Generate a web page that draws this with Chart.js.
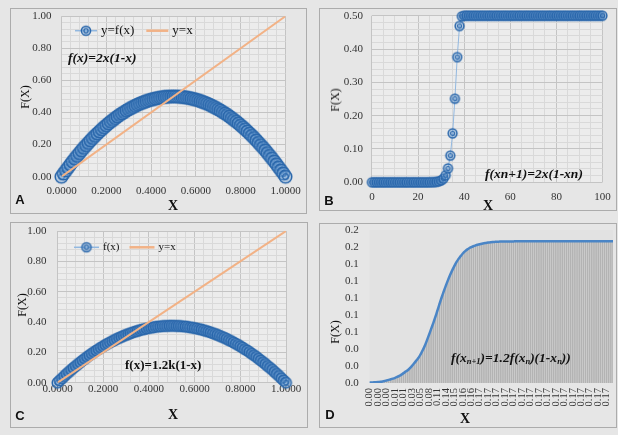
<!DOCTYPE html>
<html>
<head>
<meta charset="utf-8">
<title>Logistic map iterations</title>
<script src="https://cdn.jsdelivr.net/npm/chart.js@4.4.1/dist/chart.umd.min.js"></script>
<style>
  html, body { margin: 0; padding: 0; }
  body { width: 618px; height: 435px; background: #e6e6e6; position: relative; overflow: hidden;
         font-family: "Liberation Serif", "Times New Roman", serif; }
  .panel { position: absolute; box-sizing: border-box; border: 1.5px solid #acacac; }
  .holder { position: absolute; }
  .t { position: absolute; white-space: nowrap; color: #111; line-height: 16px; }
  .ctr { transform: translate(-50%, -50%); }
  .vt { transform: translate(-50%, -50%) rotate(-90deg); }
  .letter { font-family: "Liberation Sans", Arial, sans-serif; font-weight: bold; font-size: 13px; }
  .ax { font-size: 14px; font-weight: bold; }
  .fy { font-size: 12px; }
  .note { font-size: 13.5px; font-weight: bold; font-style: italic; transform: translateY(-50%); }
  .note.up { font-style: normal; font-size: 13px; }
  .note sub { font-size: 8.5px; vertical-align: -2px; line-height: 0; }
</style>
</head>
<body>

<div class="panel" style="left:10px;top:8px;width:297px;height:206px"></div>
<div class="panel" style="left:319px;top:8px;width:298px;height:203px"></div>
<div class="panel" style="left:10px;top:222px;width:298px;height:206px"></div>
<div class="panel" style="left:319px;top:223px;width:298px;height:205px"></div>

<div class="holder" style="left:10px;top:8px;width:297px;height:206px"><canvas id="chartA"></canvas></div>
<div class="holder" style="left:319px;top:8px;width:298px;height:203px"><canvas id="chartB"></canvas></div>
<div class="holder" style="left:10px;top:222px;width:298px;height:206px"><canvas id="chartC"></canvas></div>
<div class="holder" style="left:319px;top:223px;width:298px;height:205px"><canvas id="chartD"></canvas></div>

<!-- panel A -->
<div class="t letter ctr" style="left:20px;top:200px">A</div>
<div class="t fy vt" style="left:25px;top:97px">F(X)</div>
<div class="t ax ctr" style="left:173px;top:206px">X</div>
<div class="t note" style="left:68px;top:58px">f(x)=2x(1-x)</div>
<!-- panel B -->
<div class="t letter ctr" style="left:329px;top:201px">B</div>
<div class="t fy vt" style="left:335px;top:100px">F(X)</div>
<div class="t ax ctr" style="left:488px;top:206px">X</div>
<div class="t note" style="left:485px;top:174px">f(xn+1)=2x(1-xn)</div>
<!-- panel C -->
<div class="t letter ctr" style="left:20px;top:416px">C</div>
<div class="t fy vt" style="left:22px;top:305px">F(X)</div>
<div class="t ax ctr" style="left:173px;top:415px">X</div>
<div class="t note up" style="left:125px;top:365px">f(x)=1.2k(1-x)</div>
<!-- panel D -->
<div class="t letter ctr" style="left:330px;top:415px">D</div>
<div class="t fy vt" style="left:335px;top:332px">F(X)</div>
<div class="t ax ctr" style="left:465px;top:419px">X</div>
<div class="t note" style="left:451px;top:358px">f(x<sub>n+1</sub>)=1.2f(x<sub>n</sub>)(1-x<sub>n</sub>))</div>

<script>
// x values shared by panels A and C
const xGrid = [
  0.00, 0.01, 0.02, 0.03, 0.04, 0.05, 0.06, 0.07, 0.08, 0.09,
  0.10, 0.11, 0.12, 0.13, 0.14, 0.15, 0.16, 0.17, 0.18, 0.19,
  0.20, 0.21, 0.22, 0.23, 0.24, 0.25, 0.26, 0.27, 0.28, 0.29,
  0.30, 0.31, 0.32, 0.33, 0.34, 0.35, 0.36, 0.37, 0.38, 0.39,
  0.40, 0.41, 0.42, 0.43, 0.44, 0.45, 0.46, 0.47, 0.48, 0.49,
  0.50, 0.51, 0.52, 0.53, 0.54, 0.55, 0.56, 0.57, 0.58, 0.59,
  0.60, 0.61, 0.62, 0.63, 0.64, 0.65, 0.66, 0.67, 0.68, 0.69,
  0.70, 0.71, 0.72, 0.73, 0.74, 0.75, 0.76, 0.77, 0.78, 0.79,
  0.80, 0.81, 0.82, 0.83, 0.84, 0.85, 0.86, 0.87, 0.88, 0.89,
  0.90, 0.91, 0.92, 0.93, 0.94, 0.95, 0.96, 0.97, 0.98, 0.99,
  1.00
];

// panel A: f(x) = 2x(1-x)
const fA = [
  0.000, 0.020, 0.039, 0.058, 0.077, 0.095, 0.113, 0.130, 0.147, 0.164,
  0.180, 0.196, 0.211, 0.226, 0.241, 0.255, 0.269, 0.282, 0.295, 0.308,
  0.320, 0.332, 0.343, 0.354, 0.365, 0.375, 0.385, 0.394, 0.403, 0.412,
  0.420, 0.428, 0.435, 0.442, 0.449, 0.455, 0.461, 0.466, 0.471, 0.476,
  0.480, 0.484, 0.487, 0.490, 0.493, 0.495, 0.497, 0.498, 0.499, 0.500,
  0.500, 0.500, 0.499, 0.498, 0.497, 0.495, 0.493, 0.490, 0.487, 0.484,
  0.480, 0.476, 0.471, 0.466, 0.461, 0.455, 0.449, 0.442, 0.435, 0.428,
  0.420, 0.412, 0.403, 0.394, 0.385, 0.375, 0.365, 0.354, 0.343, 0.332,
  0.320, 0.308, 0.295, 0.282, 0.269, 0.255, 0.241, 0.226, 0.211, 0.196,
  0.180, 0.164, 0.147, 0.130, 0.113, 0.095, 0.077, 0.058, 0.039, 0.020,
  0.000
];

// panel C: f(x) curve
const fC = [
  0.000, 0.015, 0.029, 0.044, 0.058, 0.071, 0.085, 0.098, 0.110, 0.123,
  0.135, 0.147, 0.158, 0.170, 0.181, 0.191, 0.202, 0.212, 0.221, 0.231,
  0.240, 0.249, 0.257, 0.266, 0.274, 0.281, 0.289, 0.296, 0.302, 0.309,
  0.315, 0.321, 0.326, 0.332, 0.337, 0.341, 0.346, 0.350, 0.353, 0.357,
  0.360, 0.363, 0.365, 0.368, 0.370, 0.371, 0.373, 0.374, 0.374, 0.375,
  0.375, 0.375, 0.374, 0.374, 0.373, 0.371, 0.370, 0.368, 0.365, 0.363,
  0.360, 0.357, 0.353, 0.350, 0.346, 0.341, 0.337, 0.332, 0.326, 0.321,
  0.315, 0.309, 0.302, 0.296, 0.289, 0.281, 0.274, 0.266, 0.257, 0.249,
  0.240, 0.231, 0.221, 0.212, 0.202, 0.191, 0.181, 0.170, 0.158, 0.147,
  0.135, 0.123, 0.110, 0.098, 0.085, 0.071, 0.058, 0.044, 0.029, 0.015,
  0.000
];

// y = x reference line (end points)
const diagX = [0, 1];
const diagY = [0, 1];

// panel B: iterates x(n), n = 0..100
const bIter = [
  0, 0, 0, 0, 0, 0, 0, 0, 0, 0,
  0, 0, 0, 0, 0, 0, 0, 0, 0, 0,
  0, 0.00001, 0.00002, 0.00004, 0.00009, 0.00017, 0.00034, 0.00068, 0.00136, 0.00272,
  0.00541, 0.01077, 0.0213, 0.0417, 0.0799, 0.1470, 0.2508, 0.3758, 0.4692, 0.4981,
  0.5000, 0.5, 0.5, 0.5, 0.5, 0.5, 0.5, 0.5, 0.5, 0.5,
  0.5, 0.5, 0.5, 0.5, 0.5, 0.5, 0.5, 0.5, 0.5, 0.5,
  0.5, 0.5, 0.5, 0.5, 0.5, 0.5, 0.5, 0.5, 0.5, 0.5,
  0.5, 0.5, 0.5, 0.5, 0.5, 0.5, 0.5, 0.5, 0.5, 0.5,
  0.5, 0.5, 0.5, 0.5, 0.5, 0.5, 0.5, 0.5, 0.5, 0.5,
  0.5, 0.5, 0.5, 0.5, 0.5, 0.5, 0.5, 0.5, 0.5, 0.5,
  0.5
];

// panel D: iterates of the 1.2 map
const dIter = [
  0.0005, 0.0006, 0.0008, 0.0009, 0.0011, 0.0014, 0.0018, 0.0023, 0.0030, 0.0037,
  0.0044, 0.0052, 0.0061, 0.0071, 0.0084, 0.0099, 0.0116, 0.0134, 0.0151, 0.0175,
  0.0202, 0.0232, 0.0263, 0.0294, 0.0335, 0.0383, 0.0436, 0.0499, 0.0565, 0.0633,
  0.0702, 0.0774, 0.0852, 0.0930, 0.1006, 0.1078, 0.1146, 0.1210, 0.1270, 0.1325,
  0.1375, 0.1421, 0.1460, 0.1493, 0.1524, 0.1549, 0.1569, 0.1585, 0.1598, 0.1609,
  0.1618, 0.1626, 0.1633, 0.1639, 0.1644, 0.1648, 0.1652, 0.1655, 0.1658, 0.1660,
  0.1662, 0.1663, 0.1664, 0.1665, 0.1665, 0.1666, 0.1666, 0.1666, 0.1666, 0.1667,
  0.1667, 0.1667, 0.1667, 0.1667, 0.1667, 0.1667, 0.1667, 0.1667, 0.1667, 0.1667,
  0.1667, 0.1667, 0.1667, 0.1667, 0.1667, 0.1667, 0.1667, 0.1667, 0.1667, 0.1667,
  0.1667, 0.1667, 0.1667, 0.1667, 0.1667, 0.1667, 0.1667, 0.1667, 0.1667, 0.1667,
  0.1667, 0.1667, 0.1667, 0.1667, 0.1667, 0.1667, 0.1667, 0.1667, 0.1667, 0.1667,
  0.1667, 0.1667, 0.1667, 0.1667, 0.1667, 0.1667
];
// category labels shown under panel D (one every dLabelStep points)
const dTickLabels = [
  '0.00', '0.00', '0.00', '0.01', '0.01', '0.03', '0.05', '0.08', '0.11', '0.14',
  '0.15', '0.16', '0.16', '0.17', '0.17', '0.17', '0.17', '0.17', '0.17', '0.17',
  '0.17', '0.17', '0.17', '0.17', '0.17', '0.17', '0.17', '0.17', '0.17'
];
const dLabelStep = 4;

// ---------- styling helpers ----------
const BLUE = '#2a67ab';
const BLUE_LINE = '#92b8e0';
const ORANGE = '#f2b286';
const GRID_MAJOR = '#c4c4c4';
const GRID_MINOR = '#d9d9d9';

Chart.defaults.font.family = '"Liberation Serif", "Times New Roman", serif';
Chart.defaults.font.size = 11;
Chart.defaults.color = '#333333';
Chart.defaults.animation = false;

// double-ring circle marker of a given outer radius
function ringMarker(r) {
  const s = Math.ceil(2 * r + 4);
  const c = document.createElement('canvas');
  c.width = s; c.height = s;
  const g = c.getContext('2d');
  const m = s / 2;
  g.fillStyle = 'rgba(120,166,216,0.45)';
  g.beginPath(); g.arc(m, m, r, 0, Math.PI * 2); g.fill();
  g.strokeStyle = BLUE;
  g.lineWidth = 1.5;
  g.beginPath(); g.arc(m, m, r, 0, Math.PI * 2); g.stroke();
  g.lineWidth = 1.2;
  g.beginPath(); g.arc(m, m, r * 0.45, 0, Math.PI * 2); g.stroke();
  return c;
}

// fills the plotting rectangle
const plotBg = {
  id: 'plotBg',
  beforeDraw(chart, args, opts) {
    if (!opts.color) return;
    const { ctx, chartArea: a } = chart;
    ctx.save();
    ctx.fillStyle = opts.color;
    ctx.fillRect(a.left, a.top, a.width, a.height);
    ctx.restore();
  }
};

// small legend drawn inside the plotting rectangle
const insetLegend = {
  id: 'insetLegend',
  afterDatasetsDraw(chart, args, o) {
    if (!o.items) return;
    const ctx = chart.ctx;
    ctx.save();
    ctx.font = (o.bold ? 'bold ' : '') + o.size + 'px "Liberation Serif", serif';
    ctx.textBaseline = 'middle';
    let x = chart.chartArea.left + o.dx;
    const y = chart.chartArea.top + o.dy;
    for (const it of o.items) {
      const ds = chart.data.datasets[it.dataset];
      ctx.strokeStyle = ds.borderColor;
      ctx.lineWidth = it.lineWidth;
      ctx.beginPath(); ctx.moveTo(x, y); ctx.lineTo(x + o.sample, y); ctx.stroke();
      if (it.marker) {
        const img = it.marker;
        ctx.drawImage(img, x + o.sample / 2 - img.width / 2, y - img.height / 2);
      }
      x += o.sample + o.gap;
      ctx.fillStyle = '#111';
      ctx.fillText(ds.label, x, y);
      x += ctx.measureText(ds.label).width + o.spacing;
    }
    ctx.restore();
  }
};
Chart.register(plotBg, insetLegend);

function isMajor(v, major) {
  const q = v / major;
  return Math.abs(q - Math.round(q)) < 1e-6;
}

// fixes an axis thickness and drops the label overhang padding
function fixSize(size) {
  return s => {
    if (s.isHorizontal()) s.height = size; else s.width = size;
    s.paddingTop = 0; s.paddingBottom = 0; s.paddingLeft = 0; s.paddingRight = 0;
  };
}

// linear axis with major/minor grid
function gridAxis({ min, max, major, minor, digits, size, pad }) {
  return {
    type: 'linear', min, max,
    border: { display: false },
    grid: {
      drawTicks: false,
      color: c => (c.tick && isMajor(c.tick.value, major)) ? GRID_MAJOR : GRID_MINOR
    },
    ticks: {
      stepSize: minor, autoSkip: false, padding: pad, maxRotation: 0,
      callback: v => isMajor(v, major) ? v.toFixed(digits) : ''
    },
    afterFit: fixSize(size)
  };
}

function pairs(xs, ys) { return xs.map((x, i) => ({ x, y: ys[i] })); }

function curveSet(label, xs, ys, mark) {
  return {
    type: 'scatter', label, data: pairs(xs, ys), showLine: true,
    borderColor: BLUE_LINE, borderWidth: 1, pointStyle: mark,
    pointRadius: 5, pointHoverRadius: 5, clip: false, order: 1
  };
}
function diagSet() {
  return {
    type: 'scatter', label: 'y=x', data: pairs(diagX, diagY), showLine: true,
    borderColor: ORANGE, borderWidth: 2, pointRadius: 0, order: 0
  };
}

function baseOptions(padding, extra) {
  return Object.assign({
    responsive: true, maintainAspectRatio: false, events: [],
    layout: { padding, autoPadding: false },
  }, extra);
}

const markA = ringMarker(6.3);
const markB = ringMarker(4.4);
const markC = ringMarker(5.3);
const markLegend = ringMarker(4.6);

// ---------- panel A ----------
new Chart(document.getElementById('chartA'), {
  type: 'scatter',
  data: { datasets: [curveSet('y=f(x)', xGrid, fA, markA), diagSet()] },
  options: baseOptions({ left: 0, top: 8.2, right: 21.5, bottom: 0 }, {
    scales: {
      x: gridAxis({ min: 0, max: 1, major: 0.2, minor: 0.04, digits: 4, size: 37.3, pad: 8 }),
      y: gridAxis({ min: 0, max: 1, major: 0.2, minor: 0.04, digits: 2, size: 51.5, pad: 10 })
    },
    plugins: {
      legend: { display: false }, tooltip: { enabled: false },
      plotBg: { color: '#ececec' },
      insetLegend: { dx: 13.5, dy: 14.5, size: 13, bold: false, sample: 22, gap: 4, spacing: 12,
        items: [{ dataset: 0, lineWidth: 1.5, marker: markLegend }, { dataset: 1, lineWidth: 2.5 }] }
    }
  })
});

// ---------- panel B ----------
new Chart(document.getElementById('chartB'), {
  type: 'scatter',
  data: { datasets: [curveSet('f(xn)', bIter.map((v, n) => n), bIter, markB)] },
  options: baseOptions({ left: 0, top: 7.7, right: 14.5, bottom: 0 }, {
    scales: {
      x: gridAxis({ min: 0, max: 100, major: 20, minor: 5, digits: 0, size: 28.7, pad: 8 }),
      y: gridAxis({ min: 0, max: 0.5, major: 0.1, minor: 0.02, digits: 2, size: 52.9, pad: 9 })
    },
    plugins: {
      legend: { display: false }, tooltip: { enabled: false },
      plotBg: { color: '#ececec' }
    }
  })
});

// ---------- panel C ----------
new Chart(document.getElementById('chartC'), {
  type: 'scatter',
  data: { datasets: [curveSet('f(x)', xGrid, fC, markC), diagSet()] },
  options: baseOptions({ left: 0, top: 9, right: 22, bottom: 0 }, {
    scales: {
      x: gridAxis({ min: 0, max: 1, major: 0.2, minor: 0.04, digits: 4, size: 45.3, pad: 0 }),
      y: gridAxis({ min: 0, max: 1, major: 0.2, minor: 0.04, digits: 2, size: 47.5, pad: 11 })
    },
    plugins: {
      legend: { display: false }, tooltip: { enabled: false },
      plotBg: { color: '#ececec' },
      insetLegend: { dx: 16.5, dy: 16.3, size: 11, bold: false, sample: 25, gap: 4, spacing: 10,
        items: [{ dataset: 0, lineWidth: 1.5, marker: markLegend }, { dataset: 1, lineWidth: 2.5 }] }
    }
  })
});

// ---------- panel D ----------
new Chart(document.getElementById('chartD'), {
  data: {
    labels: dIter.map((v, i) => String(i)),
    datasets: [
      { type: 'line', label: 'f(xn)', data: dIter, borderColor: '#4a85c6', borderWidth: 2.5,
        pointRadius: 0, tension: 0.4, order: 0 },
      { type: 'bar', label: 'drop', data: dIter, backgroundColor: 'rgba(140,140,140,0.55)',
        barThickness: 1, order: 1 }
    ]
  },
  options: baseOptions({ left: 0, top: 7, right: 4, bottom: 0 }, {
    scales: {
      x: {
        type: 'category', offset: false,
        border: { display: false },
        grid: { display: false, drawTicks: false },
        ticks: {
          autoSkip: false, minRotation: 90, maxRotation: 90, padding: 5, font: { size: 10.5 },
          callback: (v, i) => (i % dLabelStep === 0 && dTickLabels[i / dLabelStep] !== undefined)
            ? dTickLabels[i / dLabelStep] : ''
        },
        afterFit: fixSize(45)
      },
      y: {
        type: 'linear', min: 0, max: 0.18,
        border: { display: false },
        grid: { display: false, drawTicks: false },
        ticks: { stepSize: 0.02, autoSkip: false, padding: 11, callback: v => v.toFixed(1) },
        afterFit: fixSize(50.7)
      }
    },
    plugins: {
      legend: { display: false }, tooltip: { enabled: false },
      plotBg: { color: '#e2e2e2' }
    }
  })
});
</script>
</body>
</html>
